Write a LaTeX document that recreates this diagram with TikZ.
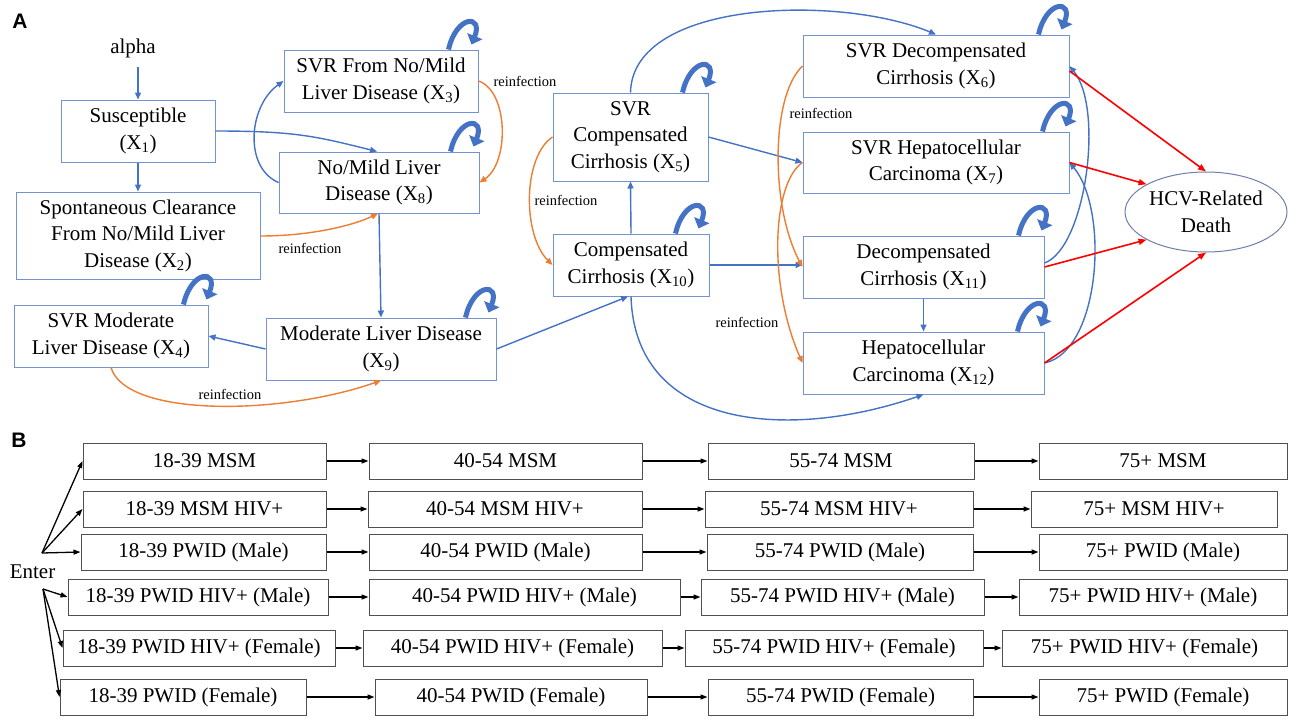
\documentclass[tikz,border=0pt]{standalone}
\usepackage{fontspec}
\setmainfont{Liberation Serif}
\newfontfamily\lblfont{Liberation Sans}
\usetikzlibrary{arrows.meta,shapes.geometric}
\definecolor{hblue}{HTML}{4472C4}
\definecolor{hbox}{HTML}{7393D2}
\definecolor{horange}{HTML}{ED7D31}
\definecolor{hred}{HTML}{FF0000}
\definecolor{hell}{HTML}{6E7FA8}
\definecolor{bbox}{HTML}{505050}
\tikzset{
 boxA/.style={draw=hbox, line width=1pt, inner sep=0pt, align=center, font=\fontsize{21}{26.5}\selectfont},
 boxB/.style={draw=bbox, line width=1pt, inner sep=0pt, minimum height=36pt, font=\fontsize{21}{25}\selectfont},
 barrow/.style={draw=hblue, line width=1.4pt, -{Triangle[length=7pt,width=6pt]}},
 oarrow/.style={draw=horange, line width=1.4pt, -{Triangle[length=7pt,width=6pt]}},
 rarrow/.style={draw=hred, line width=1.6pt, -{Triangle[length=8pt,width=6pt]}},
 karrow/.style={draw=black, line width=1.3pt, -{Triangle[length=7pt,width=5pt]}},
 loopst/.style={draw=hblue, line width=5pt, -{Triangle[length=9pt,width=16pt]}},
 reinf/.style={font=\fontsize{14.5}{16}\selectfont, inner sep=0pt},
 plabel/.style={font=\lblfont\bfseries\fontsize{21}{21}\selectfont, inner sep=0pt},
}
\newcommand{\hcvloop}[3]{\draw[loopst] ([xshift=#2pt]#1.north east) .. controls +(8,-35) and +(12,-30) .. ([xshift=#3pt,yshift=5pt]#1.north east);}
\begin{document}
\begin{tikzpicture}[x=1pt,y=-1pt]
\fill[white] (0,0) rectangle (1289,718);
\useasboundingbox (0,0) rectangle (1289,718);

% ---------- Panel A ----------
\node[plabel] (LA) at (20,21) {A};
\node[font=\fontsize{21}{25}\selectfont, inner sep=0pt] (alpha) at (133,48) {alpha};

\node[boxA, minimum width=154pt, minimum height=62pt] (X1) at (138,131) {Susceptible\\(X\textsubscript{1})};
\node[boxA, minimum width=244pt, minimum height=87pt] (X2) at (138,235.5) {Spontaneous Clearance\\From No/Mild Liver\\Disease (X\textsubscript{2})};
\node[boxA, minimum width=194pt, minimum height=62pt] (X3) at (381,81) {SVR From No/Mild\\Liver Disease (X\textsubscript{3})};
\node[boxA, minimum width=200pt, minimum height=61pt] (X8) at (379,182.5) {No/Mild Liver\\Disease (X\textsubscript{8})};
\node[boxA, minimum width=194pt, minimum height=62pt] (X4) at (111,336) {SVR Moderate\\Liver Disease (X\textsubscript{4})};
\node[boxA, minimum width=230pt, minimum height=62pt] (X9) at (381,349) {Moderate Liver Disease\\(X\textsubscript{9})};
\node[boxA, minimum width=155pt, minimum height=88pt] (X5) at (630.5,137) {SVR\\Compensated\\Cirrhosis (X\textsubscript{5})};
\node[boxA, minimum width=156pt, minimum height=62pt] (X10) at (631,265) {Compensated\\Cirrhosis (X\textsubscript{10})};
\node[boxA, minimum width=266pt, minimum height=62pt] (X6) at (936,66) {SVR Decompensated\\Cirrhosis (X\textsubscript{6})};
\node[boxA, minimum width=266pt, minimum height=61pt] (X7) at (936,162.5) {SVR Hepatocellular\\Carcinoma (X\textsubscript{7})};
\node[boxA, minimum width=241pt, minimum height=62pt] (X11) at (923.5,267) {Decompensated\\Cirrhosis (X\textsubscript{11})};
\node[boxA, minimum width=241pt, minimum height=62pt] (X12) at (923.5,363) {Hepatocellular\\Carcinoma (X\textsubscript{12})};
\node[boxA, draw=hell, ellipse, minimum width=162pt, minimum height=80pt] (D) at (1206,212) {HCV-Related\\Death};

% self loops
\hcvloop{X3}{-30}{-7}
\hcvloop{X8}{-29}{-6}
\hcvloop{X4}{-25}{-2}
\hcvloop{X9}{-31}{-8}
\hcvloop{X5}{-26}{-3}
\hcvloop{X10}{-34}{-11}
\hcvloop{X6}{-31}{-8}
\hcvloop{X7}{-27}{-4}
\hcvloop{X11}{-26}{-3}
\hcvloop{X12}{-27}{-4}

% blue transitions
\draw[barrow] ([yshift=-9pt]alpha.south -| X1.north) -- (X1.north);
\draw[barrow] (X1.south) -- (X2.north);
\draw[barrow] (X1.east) .. controls +(80,0) and +(-60,-15) .. ([xshift=-2pt]X8.north);
\draw[barrow] (X8.west) .. controls +(-35,-15) and +(-35,25) .. (X3.west);
\draw[barrow] (X8.south) -- (X9.north);
\draw[barrow] (X9.west) -- (X4.east);
\draw[barrow] (X9.east) -- ([xshift=-3pt]X10.south);
\draw[barrow] (X10.north) -- (X5.south);
\draw[barrow] (X5.north) .. controls +(2,-93) and +(-96,-40) .. (X6.north);
\draw[barrow] (X5.east) -- (X7.west);
\draw[barrow] (X10.east) -- (X10.east -| X11.west);
\draw[barrow] (X10.south) .. controls +(4,134) and +(-133,46) .. (X12.south);
\draw[barrow] ([yshift=4pt]X11.east) .. controls +(41,-15) and +(35,43) .. (X6.east);
\draw[barrow] (X12.east) .. controls +(56,-12) and +(40,48) .. (X7.east);
\draw[barrow] (X11.south) -- (X12.north);

% reinfection (orange)
\draw[oarrow] ([yshift=-0.5pt]X2.east) .. controls +(50,0) and +(-25,12) .. ([xshift=-1pt]X8.south);
\draw[oarrow] (X4.south) .. controls +(15,50) and +(-100,35) .. (X9.south);
\draw[oarrow] (X3.east) .. controls +(30,10) and +(30,-20) .. (X8.east);
\draw[oarrow] (X5.west) .. controls +(-30,20) and +(-30,-30) .. (X10.west);
\draw[oarrow] (X6.west) .. controls +(-32,30) and +(-32,-60) .. (X11.west);
\draw[oarrow] (X7.west) .. controls +(-30,20) and +(-35,-80) .. (X12.west);

\node[reinf] (r1) at (525,81) {reinfection};
\node[reinf] (r2) at (310,248) {reinfection};
\node[reinf] (r3) at (230,394) {reinfection};
\node[reinf] (r4) at (566,200) {reinfection};
\node[reinf] (r5) at (821,113) {reinfection};
\node[reinf] (r6) at (747,322) {reinfection};

% deaths (red)
\draw[rarrow] ([yshift=-5pt]X6.east) -- (D.north);
\draw[rarrow] (X7.east) -- (D.155);
\draw[rarrow] (X11.east) -- (D.205);
\draw[rarrow] (X12.east) -- (D.south);

% ---------- Panel B ----------
\node[plabel] (LB) at (19,440) {B};
\node[font=\fontsize{21}{25}\selectfont, inner sep=0pt] (enter) at (32.5,572) {Enter};
\coordinate (eu) at (42,553);
\coordinate (el) at (43,589);

\node[boxB, minimum width=243pt] (R1a) at (204.5,461) {18-39 MSM};
\node[boxB, minimum width=273pt] (R1b) at (505.5,461) {40-54 MSM};
\node[boxB, minimum width=266pt] (R1c) at (841,461) {55-74 MSM};
\node[boxB, minimum width=248pt] (R1d) at (1163,461) {75+ MSM};

\node[boxB, minimum width=243pt] (R2a) at (204.5,509) {18-39 MSM HIV+};
\node[boxB, minimum width=274pt] (R2b) at (505,509) {40-54 MSM HIV+};
\node[boxB, minimum width=268pt] (R2c) at (839,509) {55-74 MSM HIV+};
\node[boxB, minimum width=246pt] (R2d) at (1154,509) {75+ MSM HIV+};

\node[boxB, minimum width=245pt] (R3a) at (203.5,552) {18-39 PWID (Male)};
\node[boxB, minimum width=273pt] (R3b) at (505.5,552) {40-54 PWID (Male)};
\node[boxB, minimum width=266pt] (R3c) at (840,552) {55-74 PWID (Male)};
\node[boxB, minimum width=248pt] (R3d) at (1163,552) {75+ PWID (Male)};

\node[boxB, minimum width=260pt] (R4a) at (198,597) {18-39 PWID HIV+ (Male)};
\node[boxB, minimum width=311pt] (R4b) at (524.5,597) {40-54 PWID HIV+ (Male)};
\node[boxB, minimum width=283pt] (R4c) at (842.5,597) {55-74 PWID HIV+ (Male)};
\node[boxB, minimum width=268pt] (R4d) at (1153,597) {75+ PWID HIV+ (Male)};

\node[boxB, minimum width=272pt] (R5a) at (199,648) {18-39 PWID HIV+ (Female)};
\node[boxB, minimum width=299pt] (R5b) at (512.5,648) {40-54 PWID HIV+ (Female)};
\node[boxB, minimum width=298pt] (R5c) at (834,648) {55-74 PWID HIV+ (Female)};
\node[boxB, minimum width=285pt] (R5d) at (1144.5,648) {75+ PWID HIV+ (Female)};

\node[boxB, minimum width=246pt] (R6a) at (183,697) {18-39 PWID (Female)};
\node[boxB, minimum width=272pt] (R6b) at (511,697) {40-54 PWID (Female)};
\node[boxB, minimum width=265pt] (R6c) at (840.5,697) {55-74 PWID (Female)};
\node[boxB, minimum width=248pt] (R6d) at (1163,697) {75+ PWID (Female)};

\foreach \r in {1,...,6}{
  \draw[karrow] (R\r a.east) -- (R\r b.west);
  \draw[karrow] (R\r b.east) -- (R\r c.west);
  \draw[karrow] (R\r c.east) -- (R\r d.west);
}
\draw[karrow] (eu) -- (R1a.west);
\draw[karrow] (eu) -- (R2a.west);
\draw[karrow] (eu) -- (R3a.west);
\draw[karrow] (el) -- (R4a.west);
\draw[karrow] (el) -- (R5a.west);
\draw[karrow] (el) -- (R6a.west);
\end{tikzpicture}
\end{document}
